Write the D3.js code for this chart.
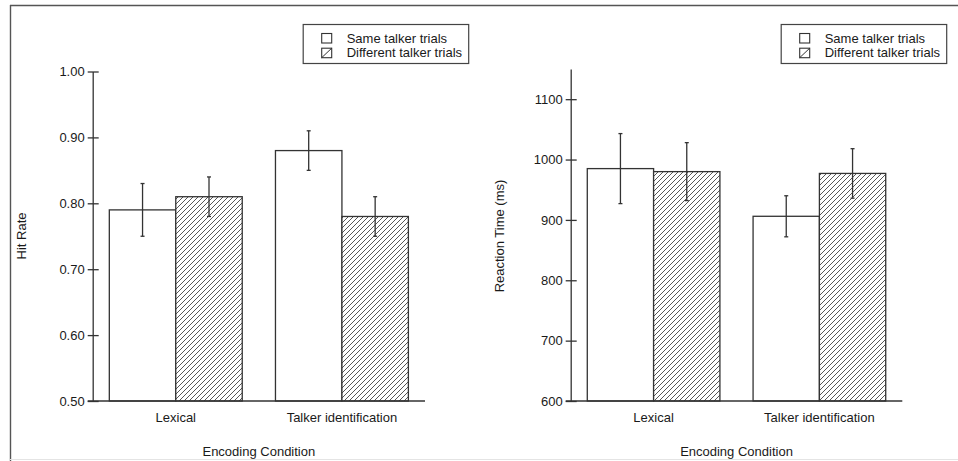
<!DOCTYPE html>
<html>
<head>
<meta charset="utf-8">
<style>
  body { margin: 0; background: #fff; }
  svg text { font-family: "Liberation Sans", Arial, sans-serif; font-size: 13px; fill: #1a1a1a; }
</style>
</head>
<body>
<svg width="958" height="461"></svg>
<script src="https://cdn.jsdelivr.net/npm/d3@7"></script>
<script>

var categories = ["Lexical", "Talker identification"],
    seriesNames = ["Same talker trials", "Different talker trials"];

// hit rate panel
var hitSame = [0.79, 0.88],
    hitSameErr = [0.04, 0.03],
    hitDiff = [0.81, 0.78],
    hitDiffErr = [0.03, 0.03],
    hitTicks = [0.50, 0.60, 0.70, 0.80, 0.90, 1.00];

// reaction time panel
var rtSame = [985, 906],
    rtSameErr = [58, 34],
    rtDiff = [980, 977],
    rtDiffErr = [48, 41],
    rtTicks = [600, 700, 800, 900, 1000, 1100];

var svg = d3.select("svg"),
    ink = "#333";

// hatch pattern
var defs = svg.append("defs");
var pat = defs.append("pattern")
    .attr("id", "hatch")
    .attr("patternUnits", "userSpaceOnUse")
    .attr("width", 5).attr("height", 5);
pat.append("rect").attr("width", 5).attr("height", 5).attr("fill", "#fff");
pat.append("path")
    .attr("d", "M-1,1 l2,-2 M0,5 l5,-5 M4,6 l2,-2")
    .attr("stroke", "#444").attr("stroke-width", 0.9);

// outer frame (top + left, faint bottom)
svg.append("line").attr("x1", 10).attr("x2", 958).attr("y1", 5.5).attr("y2", 5.5)
    .attr("stroke", "#555").attr("stroke-width", 1.4);
svg.append("line").attr("x1", 10.5).attr("x2", 10.5).attr("y1", 5).attr("y2", 461)
    .attr("stroke", "#555").attr("stroke-width", 1.4);
svg.append("line").attr("x1", 10).attr("x2", 958).attr("y1", 459.5).attr("y2", 459.5)
    .attr("stroke", "#e4e4e4").attr("stroke-width", 1);

function drawPanel(p) {
  var g = svg.append("g");
  var bottom = 401;

  var x = d3.scaleBand().domain(categories).range([p.left, p.right]).padding(0);
  var y = d3.scaleLinear().domain(p.domain).range([bottom, p.top]);
  var bw = x.bandwidth() * 0.4;

  var rows = categories.map(function(c, i) {
    return [
      {cat: c, v: p.same[i], e: p.sameErr[i], off: -bw, fill: "#fff"},
      {cat: c, v: p.diff[i], e: p.diffErr[i], off: 0, fill: "url(#hatch)"}
    ];
  });
  var bars = [].concat.apply([], rows);

  // bars
  g.selectAll(".bar").data(bars).enter().append("rect")
      .attr("class", "bar")
      .attr("x", function(d) { return x(d.cat) + x.bandwidth() / 2 + d.off; })
      .attr("y", function(d) { return y(d.v); })
      .attr("width", bw)
      .attr("height", function(d) { return bottom - y(d.v); })
      .attr("fill", function(d) { return d.fill; })
      .attr("stroke", ink).attr("stroke-width", 1.3);

  // error bars
  var eb = g.selectAll(".err").data(bars).enter().append("g").attr("class", "err")
      .attr("stroke", ink).attr("stroke-width", 1.3);
  function cx(d) { return x(d.cat) + x.bandwidth() / 2 + d.off + bw / 2; }
  eb.append("line")
      .attr("x1", cx).attr("x2", cx)
      .attr("y1", function(d) { return y(d.v + d.e); })
      .attr("y2", function(d) { return y(d.v - d.e); });
  eb.append("line")
      .attr("x1", function(d) { return cx(d) - 2; }).attr("x2", function(d) { return cx(d) + 2; })
      .attr("y1", function(d) { return y(d.v + d.e); }).attr("y2", function(d) { return y(d.v + d.e); });
  eb.append("line")
      .attr("x1", function(d) { return cx(d) - 2; }).attr("x2", function(d) { return cx(d) + 2; })
      .attr("y1", function(d) { return y(d.v - d.e); }).attr("y2", function(d) { return y(d.v - d.e); });

  // y axis
  var yAxis = d3.axisLeft(y).tickValues(p.ticks).tickFormat(p.fmt).tickSizeInner(5).tickSizeOuter(0).tickPadding(3);
  var ya = g.append("g").attr("transform", "translate(" + p.left + ",0)").call(yAxis);
  ya.select(".domain").attr("stroke", ink).attr("stroke-width", 1.3);
  ya.selectAll(".tick line").attr("x2", -5).attr("x1", 6).attr("stroke", ink).attr("stroke-width", 1.3);
  ya.selectAll(".tick text").attr("x", -8)
      .style("font-family", "'Liberation Sans', Arial, sans-serif").style("font-size", "13px").attr("fill", "#1a1a1a");

  // x axis line
  g.append("line").attr("x1", p.left - 5).attr("x2", p.right)
      .attr("y1", bottom).attr("y2", bottom)
      .attr("stroke", ink).attr("stroke-width", 1.3);

  // category labels
  g.selectAll(".cat").data(categories).enter().append("text")
      .attr("x", function(d) { return x(d) + x.bandwidth() / 2; })
      .attr("y", 421.5)
      .attr("text-anchor", "middle")
      .text(function(d) { return d; });

  g.append("text")
      .attr("x", (p.left + p.right) / 2).attr("y", 456)
      .attr("text-anchor", "middle")
      .text("Encoding Condition");

  g.append("text")
      .attr("transform", "translate(" + (p.left - 66.5) + "," + (bottom + 71) / 2 + ") rotate(-90)")
      .attr("text-anchor", "middle")
      .text(p.ylabel);

  // legend
  var lx = p.left + 210.5, ly = 24.5;
  g.append("rect").attr("x", lx).attr("y", ly).attr("width", 165.5).attr("height", 39)
      .attr("fill", "#fff").attr("stroke", "#444").attr("stroke-width", 1.2);
  var lg = g.selectAll(".leg").data(seriesNames).enter().append("g")
      .attr("transform", function(d, i) { return "translate(" + lx + "," + (ly + i * 14.7) + ")"; });
  lg.append("rect").attr("x", 18.5).attr("y", 9).attr("width", 10).attr("height", 9.5)
      .attr("fill", "#fff").attr("stroke", ink).attr("stroke-width", 1.1);
  lg.filter(function(d, i) { return i === 1; }).append("line")
      .attr("x1", 18.5).attr("y1", 18.5).attr("x2", 28.5).attr("y2", 9)
      .attr("stroke", ink).attr("stroke-width", 1);
  lg.append("text").attr("x", 43.5).attr("y", 18).text(function(d) { return d; });
}

drawPanel({
  left: 92.7, right: 425, top: 71.5,
  domain: [0.5, 1.0], ticks: hitTicks, fmt: d3.format(".2f"),
  same: hitSame, sameErr: hitSameErr, diff: hitDiff, diffErr: hitDiffErr,
  ylabel: "Hit Rate"
});

drawPanel({
  left: 570.7, right: 902.3, top: 69,
  domain: [600, 1150], ticks: rtTicks, fmt: d3.format("d"),
  same: rtSame, sameErr: rtSameErr, diff: rtDiff, diffErr: rtDiffErr,
  ylabel: "Reaction Time (ms)"
});

</script>
</body>
</html>
